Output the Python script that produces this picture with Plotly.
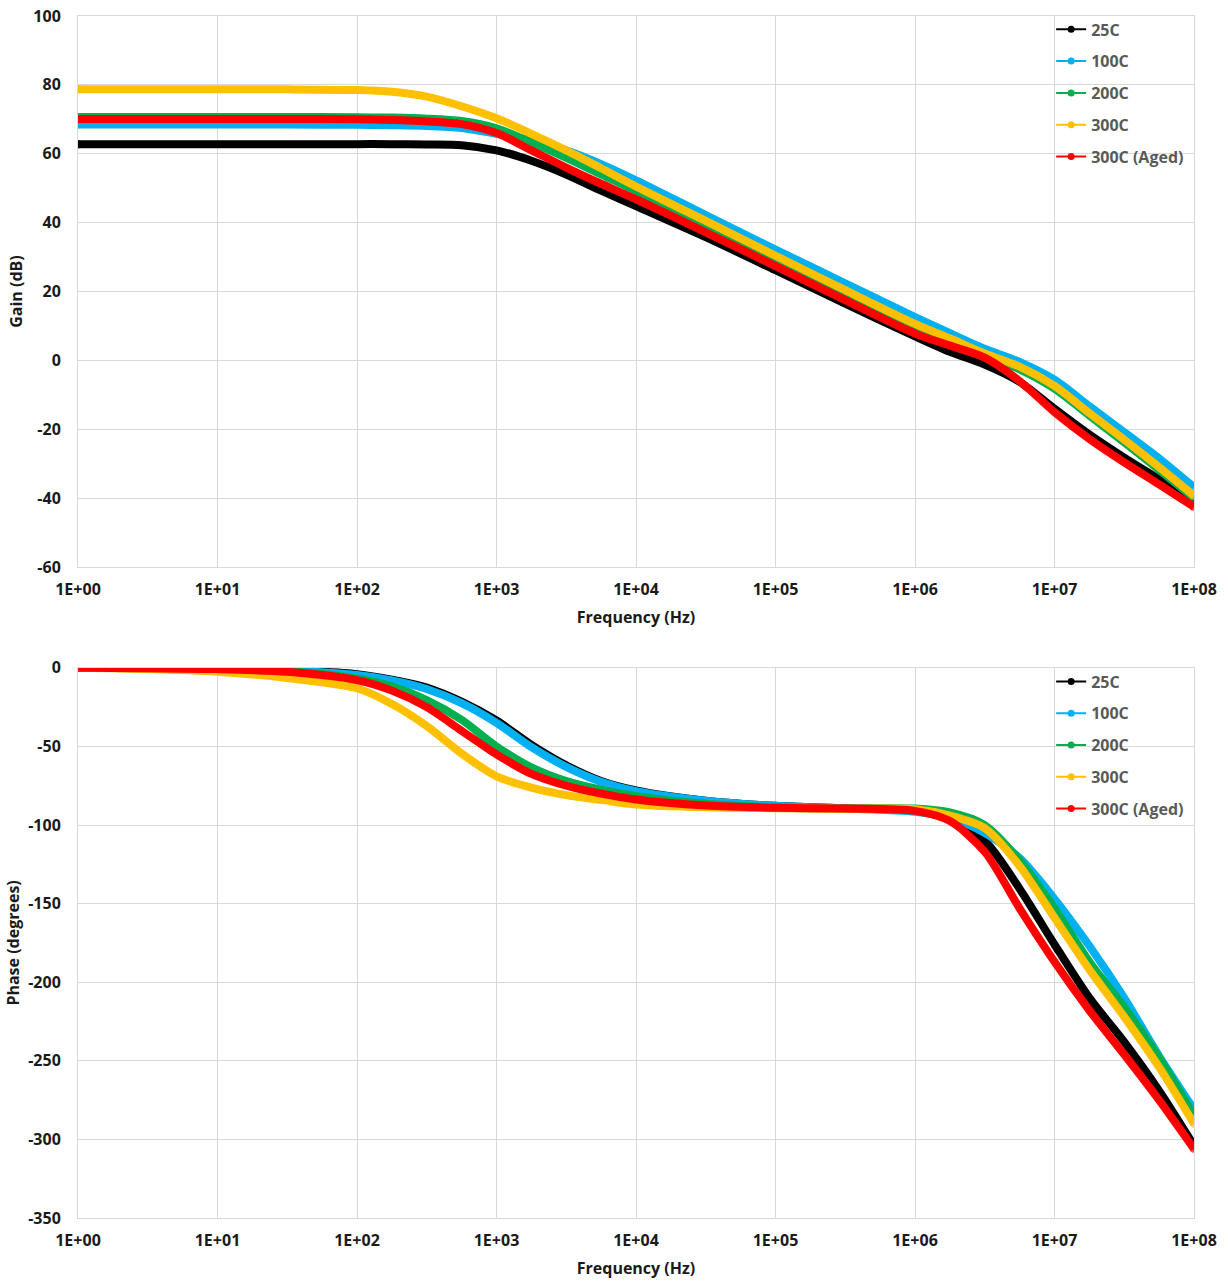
import plotly.graph_objects as go

# Frequency points (Hz) shared by the gain and phase curves
freq_hz = [1, 3.16, 10, 31.6, 100, 178, 316, 562, 1000, 1780, 3160, 5620,
           1e4, 3.16e4, 1e5, 3.16e5, 1e6, 1.78e6, 3.16e6, 5.62e6,
           1e7, 1.78e7, 3.16e7, 5.62e7, 1e8]

series_names = ["25C", "100C", "200C", "300C", "300C (Aged)"]
series_colors = ["#000000", "#00b0f0", "#00b050", "#ffc000", "#ff0000"]

# Open-loop gain (dB)
gain_25c = [62.8, 62.8, 62.8, 62.8, 62.8, 62.8, 62.7, 62.5, 61.0, 58.0, 54.0, 49.3,
            44.8, 35.8, 26.2, 16.5, 7.0, 2.5, -1.2, -6.2, -14.0, -21.5, -28.2, -34.5, -40.8]
gain_100c = [68.5, 68.5, 68.5, 68.5, 68.4, 68.3, 68.1, 67.5, 65.8, 63.8, 61.0, 57.0,
             52.3, 42.2, 32.2, 22.4, 12.6, 7.9, 3.4, -0.4, -5.6, -13.3, -20.8, -28.4, -36.8]
gain_200c = [70.7, 70.7, 70.7, 70.7, 70.6, 70.5, 70.2, 69.5, 67.4, 63.3, 58.8, 54.0,
             49.2, 39.2, 29.2, 19.2, 9.4, 5.4, 1.5, -2.6, -8.2, -16.0, -23.8, -31.8, -40.0]
gain_300c = [78.7, 78.7, 78.7, 78.7, 78.5, 78.0, 76.6, 73.8, 70.3, 65.8, 61.0, 55.8,
             50.5, 40.5, 30.4, 20.4, 10.6, 6.4, 2.0, -1.8, -7.4, -15.3, -23.0, -31.0, -39.3]
gain_300c_aged = [70.1, 70.1, 70.1, 70.1, 70.0, 69.8, 69.4, 68.6, 66.0, 61.0, 56.0, 51.3,
                  46.8, 37.2, 27.4, 17.5, 7.8, 4.3, 0.8, -6.0, -15.0, -22.8, -29.6, -36.0, -42.5]

# Phase (degrees)
phase_25c = [0, -0.2, -0.5, -1.4, -4.0, -7.5, -12.5, -21.5, -33.5, -49, -62, -72,
             -78, -84.5, -87.8, -89.3, -91, -96, -110, -140.5, -176, -210, -238, -269, -304]
phase_100c = [0, -0.2, -0.6, -1.6, -4.6, -8.0, -13.5, -22.5, -35, -50.5, -63, -72.5,
              -78.5, -84.5, -87.8, -89.5, -91.5, -95.5, -105, -121, -147, -177, -210, -247, -281]
phase_200c = [0, -0.2, -0.6, -2.0, -6.8, -11.8, -20.5, -33, -50, -63.3, -72, -77.5,
              -81.6, -86.5, -88.8, -89.5, -89.5, -92, -100, -122.5, -153, -187, -216, -248, -285]
phase_300c = [0, -0.8, -2.5, -6.5, -13, -23, -37, -54.5, -69, -76.2, -81, -84,
              -86.9, -88.7, -89.3, -89.7, -90, -94, -102, -126, -159, -192, -222, -254, -290]
phase_300c_aged = [0, -0.3, -0.8, -2.5, -7.8, -14.5, -25, -40, -55, -67.5, -75, -80,
                   -83.7, -87.5, -89, -89.5, -91, -97.5, -117, -153, -187, -218, -246, -275, -306]

gain_series = [gain_25c, gain_100c, gain_200c, gain_300c, gain_300c_aged]
phase_series = [phase_25c, phase_100c, phase_200c, phase_300c, phase_300c_aged]

# Axis ticks and their labels
x_tick_vals = [1, 10, 100, 1e3, 1e4, 1e5, 1e6, 1e7, 1e8]
x_tick_text = ["1E+00", "1E+01", "1E+02", "1E+03", "1E+04", "1E+05", "1E+06", "1E+07", "1E+08"]
gain_tick_vals = [-60, -40, -20, 0, 20, 40, 60, 80, 100]
gain_tick_text = ["-60", "-40", "-20", "0", "20", "40", "60", "80", "100"]
phase_tick_vals = [-350, -300, -250, -200, -150, -100, -50, 0]
phase_tick_text = ["-350", "-300", "-250", "-200", "-150", "-100", "-50", "0"]

FONT = "'Open Sans', Lato, sans-serif"
GRID = "#d9d9d9"
TEXT = "#1a1a1a"
LEGEND_TEXT = "#595959"

fig = go.Figure()

n = len(freq_hz)
cap_sizes = [8] + [0] * (n - 2) + [8]

for data, xa, ya, leg in [(gain_series, "x", "y", "legend"),
                          (phase_series, "x2", "y2", "legend2")]:
    for name, color, values in zip(series_names, series_colors, data):
        # thick smoothed curve with rounded ends
        fig.add_trace(go.Scatter(
            x=freq_hz, y=values, xaxis=xa, yaxis=ya,
            mode="lines+markers",
            line=dict(color=color, width=8, shape="spline", smoothing=0.8),
            marker=dict(color=color, size=cap_sizes, line=dict(width=0)),
            showlegend=False, hoverinfo="skip",
        ))
    for name, color in zip(series_names, series_colors):
        # legend entry: thin line with a dot
        fig.add_trace(go.Scatter(
            x=[None], y=[None], xaxis=xa, yaxis=ya,
            mode="lines+markers", name=name,
            line=dict(color=color, width=2),
            marker=dict(color=color, size=7),
            legend=leg, legendgroup=f"{leg}-{name}",
        ))

axis_common = dict(
    showgrid=True, gridcolor=GRID, gridwidth=1,
    showline=True, linecolor=GRID, linewidth=1, mirror=True,
    zeroline=False, ticks="", automargin=False,
    tickfont=dict(family=FONT, size=16, color=TEXT, weight="bold"),
)

title_font = dict(family=FONT, size=16, color=TEXT, weight="bold")

x_common = dict(axis_common, type="log", range=[0, 8],
                tickvals=x_tick_vals, ticktext=x_tick_text, ticklabelstandoff=8,
                title=dict(text="Frequency (Hz)", standoff=12, font=title_font))

top_domain = [0.5415, 1.0]
bottom_domain = [0.0, 0.4577]

legend_common = dict(
    x=0.872, xanchor="left", yanchor="top",
    bgcolor="rgba(255,255,255,0)", borderwidth=0,
    font=dict(family=FONT, size=16, color=LEGEND_TEXT, weight="bold"),
    itemwidth=30, tracegroupgap=8,
)

fig.update_layout(
    width=1228, height=1283,
    margin=dict(l=78, r=34, t=12, b=65),
    paper_bgcolor="white", plot_bgcolor="white",
    xaxis=dict(x_common, domain=[0, 1], anchor="y"),
    yaxis=dict(axis_common, domain=top_domain, anchor="x", range=[-60, 100],
               tickvals=gain_tick_vals, ticktext=gain_tick_text, ticklabelstandoff=13,
               title=dict(text="Gain (dB)", standoff=6, font=title_font)),
    xaxis2=dict(x_common, domain=[0, 1], anchor="y2"),
    yaxis2=dict(axis_common, domain=bottom_domain, anchor="x2", range=[-350, 0],
                tickvals=phase_tick_vals, ticktext=phase_tick_text, ticklabelstandoff=13,
                title=dict(text="Phase (degrees)", standoff=4, font=title_font)),
    legend=dict(legend_common, y=1.003),
    legend2=dict(legend_common, y=0.4605),
)

fig.write_html("out.html")
